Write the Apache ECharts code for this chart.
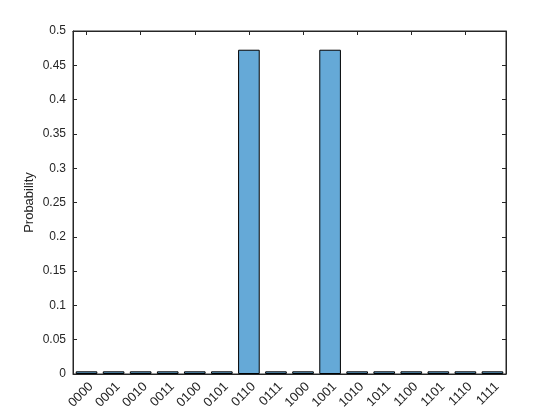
<!DOCTYPE html>
<html><head><meta charset="utf-8">
<script src="https://cdn.jsdelivr.net/npm/echarts@6/dist/echarts.min.js"></script>
<style>html,body{margin:0;padding:0;background:#fff}#c{width:560px;height:420px}</style>
</head><body><div id="c"></div>
<script>
const categories = ['0000','0001','0010','0011','0100','0101','0110','0111','1000','1001','1010','1011','1100','1101','1110','1111'];
const probability = [0.0039,0.0039,0.0039,0.0039,0.0039,0.0039,0.4727,0.0039,0.0039,0.4727,0.0039,0.0039,0.0039,0.0039,0.0039,0.0039];
const yTicks = {min:0, max:0.5, interval:0.05};
const ax = '#262626';
const font = 'Liberation Sans, Arial, sans-serif';
const chart = echarts.init(document.getElementById('c'), null, {renderer:'canvas'});
chart.setOption({
  animation:false,
  backgroundColor:'#fff',
  grid:{left:73,right:54,top:31,bottom:46,containLabel:false,show:true,borderColor:ax,borderWidth:1,backgroundColor:'transparent'},
  xAxis:[{
    type:'category', data:categories, boundaryGap:true, position:'bottom',
    axisLine:{show:true,lineStyle:{color:ax,width:1}},
    axisTick:{inside:true,alignWithLabel:true,length:4,lineStyle:{color:ax}},
    axisLabel:{rotate:45,color:ax,fontFamily:font,fontSize:13,margin:6,interval:0,verticalAlign:'top'},
    splitLine:{show:false}
  },{
    type:'category', data:categories, boundaryGap:true, position:'top',
    axisLine:{show:true,onZero:false,lineStyle:{color:ax,width:1}},
    axisTick:{show:true,inside:true,alignWithLabel:true,length:4,lineStyle:{color:ax}},
    axisLabel:{show:false}, splitLine:{show:false}
  }],
  yAxis:[{
    type:'value', min:yTicks.min, max:yTicks.max, interval:yTicks.interval, position:'left',
    name:'Probability', nameLocation:'middle', nameGap:37, nameMoveOverlap:false,
    nameTextStyle:{color:ax,fontFamily:font,fontSize:13},
    axisLine:{show:true,lineStyle:{color:ax,width:1}},
    axisTick:{show:true,inside:true,length:4,lineStyle:{color:ax}},
    axisLabel:{color:ax,fontFamily:font,fontSize:12,margin:7,formatter:v=>String(+v.toFixed(2))},
    splitLine:{show:false}
  },{
    type:'value', min:yTicks.min, max:yTicks.max, interval:yTicks.interval, position:'right',
    axisLine:{show:true,lineStyle:{color:ax,width:1}},
    axisTick:{show:true,inside:true,length:4,lineStyle:{color:ax}},
    axisLabel:{show:false}, splitLine:{show:false}
  }],
  series:[{
    type:'bar', data:probability, xAxisIndex:0, yAxisIndex:0, barWidth:'80%',
    itemStyle:{color:'#65a9d7',borderColor:'#000',borderWidth:1}
  }]
});
</script></body></html>
